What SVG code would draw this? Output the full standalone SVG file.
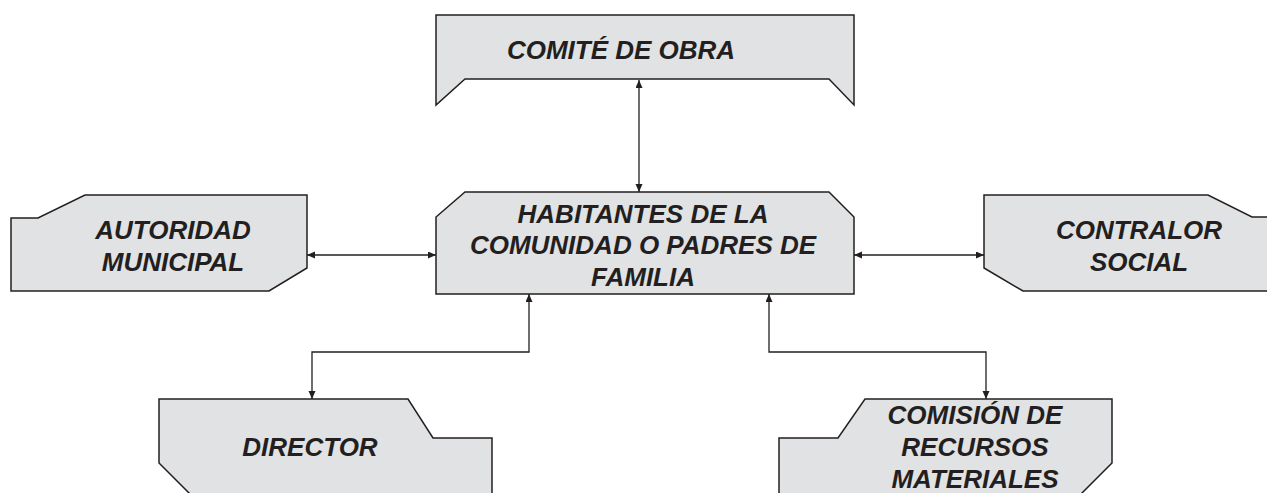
<svg xmlns="http://www.w3.org/2000/svg" width="1267" height="493" viewBox="0 0 1267 493">
  <style>
    .box { fill: #e1e2e4; stroke: #231f20; stroke-width: 1.5; stroke-linejoin: miter; }
    .lbl { font-family: "Liberation Sans", Arial, sans-serif; font-weight: bold; font-style: italic; font-size: 26px; fill: #231f20; text-anchor: middle; }
    .conn { fill: none; stroke: #231f20; stroke-width: 1.3; }
  </style>
  <defs>
    <marker id="ah" markerUnits="userSpaceOnUse" markerWidth="10" markerHeight="8" refX="8" refY="3.5" orient="auto-start-reverse">
      <path d="M0,0 L8,3.5 L0,7 z" fill="#231f20"/>
    </marker>
  </defs>
  <rect width="1267" height="493" fill="#ffffff"/>

  <g id="comite">
    <polygon class="box" points="436,15 854,15 854,105 829,79 465,79 436,105"/>
    <text class="lbl" x="621" y="59">COMITÉ DE OBRA</text>
  </g>

  <g id="habitantes">
    <polygon class="box" points="465,192 829,192 854,217 854,294 436,294 436,217"/>
    <text class="lbl" x="643" y="223">HABITANTES DE LA</text>
    <text class="lbl" x="643" y="254">COMUNIDAD O PADRES DE</text>
    <text class="lbl" x="643" y="286">FAMILIA</text>
  </g>

  <g id="autoridad">
    <polygon class="box" points="11,218 38,218 85,195 307,195 307,268 269,291 11,291"/>
    <text class="lbl" x="173" y="239">AUTORIDAD</text>
    <text class="lbl" x="173" y="271">MUNICIPAL</text>
  </g>

  <g id="contralor">
    <polygon class="box" points="984,195 1208,195 1252,217 1270,217 1270,291 1023,291 984,268"/>
    <text class="lbl" x="1139" y="239">CONTRALOR</text>
    <text class="lbl" x="1139" y="271">SOCIAL</text>
  </g>

  <g id="director">
    <polygon class="box" points="159,399 408,399 433,438 492,438 492,500 196,500 159,463"/>
    <text class="lbl" x="310" y="456">DIRECTOR</text>
  </g>

  <g id="comision">
    <polygon class="box" points="865,399 1112,399 1112,463 1075,500 779,500 779,438 838,438"/>
    <text class="lbl" x="975" y="424">COMISIÓN DE</text>
    <text class="lbl" x="975" y="456">RECURSOS</text>
    <text class="lbl" x="975" y="488">MATERIALES</text>
  </g>

  <g id="connectors">
    <path class="conn" d="M639,80 L639,192" marker-start="url(#ah)" marker-end="url(#ah)"/>
    <path class="conn" d="M307,255 L436,255" marker-start="url(#ah)" marker-end="url(#ah)"/>
    <path class="conn" d="M854,255 L984,255" marker-start="url(#ah)" marker-end="url(#ah)"/>
    <path class="conn" d="M529,294 L529,352 L312,352 L312,399" marker-start="url(#ah)" marker-end="url(#ah)"/>
    <path class="conn" d="M769,294 L769,352 L986,352 L986,399" marker-start="url(#ah)" marker-end="url(#ah)"/>
  </g>
</svg>
